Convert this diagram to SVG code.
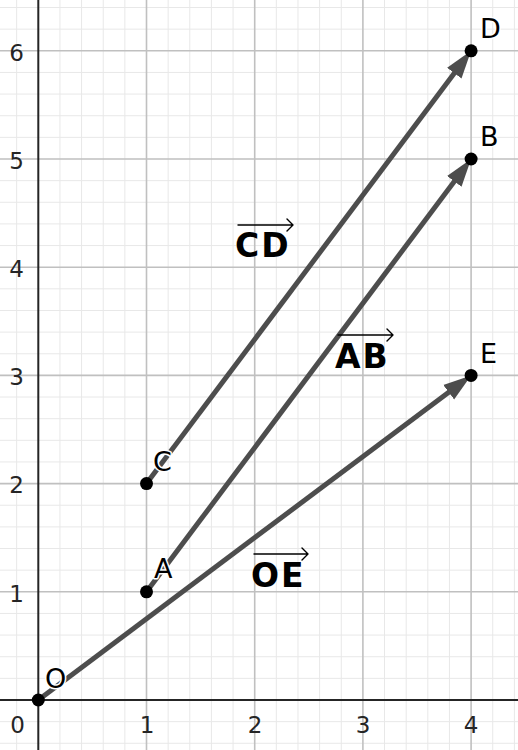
<svg xmlns="http://www.w3.org/2000/svg" width="518" height="750" viewBox="0 0 518 750">
<style>
.minor{stroke:#e8e8e8;stroke-width:1;fill:none}
.major{stroke:#c0c0c0;stroke-width:1.6;fill:none}
.axis{stroke:#252525;stroke-width:2;fill:none}
.num{font-family:"DejaVu Sans",sans-serif;font-size:23px;fill:#252525}
.vec{stroke:#4d4d4d;stroke-width:5;fill:none;marker-end:url(#ah)}
.pt{fill:#000}
.plab{font-family:"DejaVu Sans",sans-serif;font-size:27px;fill:#000;stroke:#fff;stroke-width:3;paint-order:stroke;stroke-linejoin:round}
.vlab{font-family:"DejaVu Sans",sans-serif;font-size:33px;font-weight:bold;fill:#000;letter-spacing:2px}
.over{stroke:#000;stroke-width:1.4;fill:none;stroke-linecap:round;stroke-linejoin:round}
</style>
<defs>
<marker id="ah" markerUnits="userSpaceOnUse" markerWidth="30" markerHeight="22" refX="8" refY="10" orient="auto" viewBox="0 0 30 22">
<path d="M0,1 L28,10 L0,19 Z" fill="#4d4d4d"/>
</marker>
</defs>
<rect width="518" height="750" fill="#fff"/>
<g id="grid">
<path class="minor" d="M16.66,0V750M59.94,0V750M81.58,0V750M103.22,0V750M124.86,0V750M168.14,0V750M189.78,0V750M211.42,0V750M233.06,0V750M276.34,0V750M297.98,0V750M319.62,0V750M341.26,0V750M384.54,0V750M406.18,0V750M427.82,0V750M449.46,0V750M492.74,0V750M514.38,0V750"/>
<path class="minor" d="M0,743.28H518M0,721.64H518M0,678.36H518M0,656.72H518M0,635.08H518M0,613.44H518M0,570.16H518M0,548.52H518M0,526.88H518M0,505.24H518M0,461.96H518M0,440.32H518M0,418.68H518M0,397.04H518M0,353.76H518M0,332.12H518M0,310.48H518M0,288.84H518M0,245.56H518M0,223.92H518M0,202.28H518M0,180.64H518M0,137.36H518M0,115.72H518M0,94.08H518M0,72.44H518M0,29.16H518M0,7.52H518"/>
<path class="major" d="M146.5,0V750M254.7,0V750M362.9,0V750M471.1,0V750M0,591.8H518M0,483.6H518M0,375.4H518M0,267.2H518M0,159H518M0,50.8H518"/>
<path class="axis" d="M38.3,0V750M0,700H518"/>
</g>
<g id="axis-labels">
<text class="num" x="25" y="733" text-anchor="end">0</text>
<text class="num" x="147" y="733" text-anchor="middle">1</text>
<text class="num" x="255" y="733" text-anchor="middle">2</text>
<text class="num" x="363" y="733" text-anchor="middle">3</text>
<text class="num" x="471" y="733" text-anchor="middle">4</text>
<text class="num" x="24" y="601.5" text-anchor="end">1</text>
<text class="num" x="24" y="493.3" text-anchor="end">2</text>
<text class="num" x="24" y="385.1" text-anchor="end">3</text>
<text class="num" x="24" y="276.9" text-anchor="end">4</text>
<text class="num" x="24" y="168.7" text-anchor="end">5</text>
<text class="num" x="24" y="60.5" text-anchor="end">6</text>
</g>
<g id="connectors">
<line id="vec-OE" class="vec" x1="38.3" y1="700" x2="455.1" y2="387.4"/>
<line id="vec-AB" class="vec" x1="146.5" y1="591.8" x2="459.1" y2="175"/>
<line id="vec-CD" class="vec" x1="146.5" y1="483.6" x2="459.1" y2="66.8"/>
</g>
<g id="vector-labels">
<g id="label-CD"><path class="over" d="M238,225H293M287,219L293,225L287,231"/><text class="vlab" x="235" y="257">CD</text></g>
<g id="label-AB"><path class="over" d="M338,335H393M387,329L393,335L387,341"/><text class="vlab" x="335" y="368">AB</text></g>
<g id="label-OE"><path class="over" d="M254,554H308M302,548L308,554L302,560"/><text class="vlab" x="251" y="587">OE</text></g>
</g>
<g id="node-O"><circle class="pt" cx="38.3" cy="700" r="6.5"/><text class="plab" x="45" y="688">O</text></g>
<g id="node-A"><circle class="pt" cx="146.5" cy="591.8" r="6.5"/><text class="plab" x="154" y="578">A</text></g>
<g id="node-C"><circle class="pt" cx="146.5" cy="483.6" r="6.5"/><text class="plab" x="153" y="471">C</text></g>
<g id="node-B"><circle class="pt" cx="471.1" cy="159" r="6.5"/><text class="plab" x="480" y="146">B</text></g>
<g id="node-D"><circle class="pt" cx="471.1" cy="50.8" r="6.5"/><text class="plab" x="480" y="38">D</text></g>
<g id="node-E"><circle class="pt" cx="471.1" cy="375.4" r="6.5"/><text class="plab" x="480" y="363">E</text></g>
</svg>
